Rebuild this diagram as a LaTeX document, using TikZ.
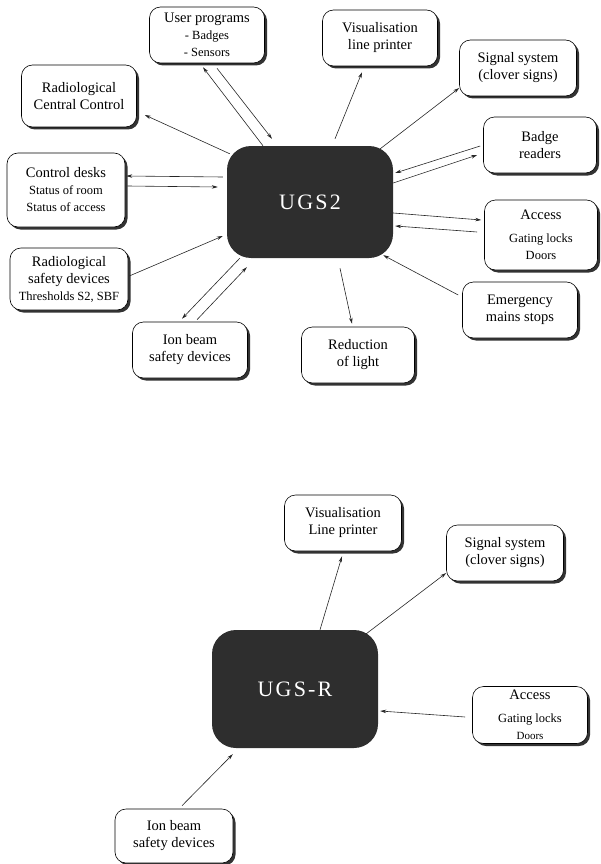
\documentclass[tikz,border=0pt]{standalone}
\usepackage{fontspec}
\setmainfont{Liberation Serif}
\newfontfamily\ugsfont[LetterSpace=10]{Liberation Serif}
\usetikzlibrary{arrows.meta,shadows}
\newcommand\subsz{\fontsize{12.5}{15}\selectfont}

\begin{document}
\begin{tikzpicture}[x=1pt,y=-1pt,
    font=\fontsize{14.5}{17}\selectfont,
    >={Stealth[length=6pt,width=3.5pt]},
    link/.style={->,line width=0.6pt,draw=black!85},
    unit/.style={draw,line width=0.6pt,rounded corners=11pt,align=center,fill=white,
      minimum width=115pt,minimum height=56pt,inner sep=2pt,
      drop shadow={shadow xshift=2.5pt,shadow yshift=-2.5pt,fill=black!80,opacity=1}},
    centre/.style={fill=black!82,rounded corners=24pt,minimum width=166pt,
      minimum height=112pt,text=white,font=\ugsfont\fontsize{22}{26}\selectfont}]
  \useasboundingbox (0,0) rectangle (600,864);

  % UGS2
  \node[centre] (ugs) at (310,202) {UGS2};
  \node[unit] (up) at (207,35) {User programs\\\subsz - Badges\\\subsz - Sensors};
  \node[unit,minimum height=62pt] (rcc) at (79,96) {Radiological\\Central Control};
  \node[unit] (vis) at (380,38) {Visualisation\\line printer};
  \node[unit,minimum width=117pt] (sig) at (518,68) {Signal system\\(clover signs)};
  \node[unit,minimum width=113pt] (bdg) at (540,145) {Badge\\readers};
  \node[unit,minimum width=113pt,minimum height=70pt] (acc) at (541,235) {Access\\[6pt]\subsz Gating locks\\\subsz Doors};
  \node[unit] (ems) at (520,310) {Emergency\\mains stops};
  \node[unit,minimum width=113pt] (red) at (358,355) {Reduction\\of light};
  \node[unit] (ion) at (190,350) {Ion beam\\safety devices};
  \node[unit,minimum width=118pt,minimum height=62pt] (rsd) at (69,279) {Radiological\\safety devices\\\subsz Thresholds S2, SBF};
  \node[unit,minimum width=118pt,minimum height=74pt] (cd) at (66,190) {Control desks\\\subsz Status of room\\\subsz Status of access};

  \draw[link] ([xshift=-47pt]ugs.north) -- ([xshift=-4pt,yshift=-4pt]up.south);
  \draw[link] ([xshift=10pt,yshift=-5pt]up.south) -- ([xshift=-38pt,yshift=7pt]ugs.north);
  \draw[link] ([xshift=3pt,yshift=-8pt]ugs.north west) -- ([xshift=8pt,yshift=-19pt]rcc.east);
  \draw[link] ([xshift=25pt,yshift=7pt]ugs.north) -- ([xshift=-18pt,yshift=-6pt]vis.south);
  \draw[link] ([xshift=-13pt,yshift=-3pt]ugs.north east) -- ([yshift=-20pt]sig.west);
  \draw[link] ([xshift=-3pt,yshift=-1pt]bdg.west) -- ([xshift=2pt,yshift=29pt]ugs.east);
  \draw[link] ([yshift=19pt]ugs.east) -- ([xshift=-6pt,yshift=-10pt]bdg.west);
  \draw[link] ([yshift=-11pt]ugs.east) -- ([xshift=-3pt,yshift=15pt]acc.west);
  \draw[link] ([xshift=-7pt,yshift=3pt]acc.west) -- ([xshift=2pt,yshift=-24pt]ugs.east);
  \draw[link] ([xshift=-4pt,yshift=15pt]ems.west) -- ([xshift=-10pt,yshift=3pt]ugs.south east);
  \draw[link] ([xshift=30pt,yshift=-10pt]ugs.south) -- ([xshift=-6pt,yshift=3pt]red.north);
  \draw[link] ([xshift=13pt]ugs.south west) -- ([xshift=-8pt,yshift=3pt]ion.north);
  \draw[link] ([xshift=7pt,yshift=2pt]ion.north) -- ([xshift=20pt,yshift=-9pt]ugs.south west);
  \draw[link] ([xshift=1pt,yshift=3pt]rsd.east) -- ([xshift=-4pt,yshift=-34pt]ugs.west);
  \draw[link] ([xshift=-4pt,yshift=25pt]ugs.west) -- ([xshift=1pt,yshift=14pt]cd.east);
  \draw[link] ([xshift=2pt,yshift=4pt]cd.east) -- ([xshift=-9pt,yshift=15pt]ugs.west);

  % UGS-R
  \node[centre,minimum height=118pt] (ugsr) at (295,689) {UGS-R};
  \node[unit,minimum width=117pt] (vis2) at (343,523) {Visualisation\\Line printer};
  \node[unit,minimum width=117pt] (sig2) at (505,553) {Signal system\\(clover signs)};
  \node[unit,minimum height=57pt] (acc2) at (530,715) {Access\\[6pt]\subsz Gating locks\\\fontsize{11}{13}\selectfont Doors};
  \node[unit,minimum width=118pt,minimum height=54pt] (ion2) at (174,836) {Ion beam\\safety devices};

  \draw[link] ([xshift=25pt]ugsr.north) -- ([xshift=-1pt,yshift=-5pt]vis2.south);
  \draw[link] ([xshift=-12pt,yshift=-4pt]ugsr.north east) -- ([yshift=-20pt]sig2.west);
  \draw[link] ([xshift=-7pt,yshift=-2pt]acc2.west) -- ([xshift=2pt,yshift=-22pt]ugsr.east);
  \draw[link] ([xshift=8pt,yshift=3pt]ion2.north) -- ([xshift=21pt,yshift=-6pt]ugsr.south west);
\end{tikzpicture}
\end{document}
